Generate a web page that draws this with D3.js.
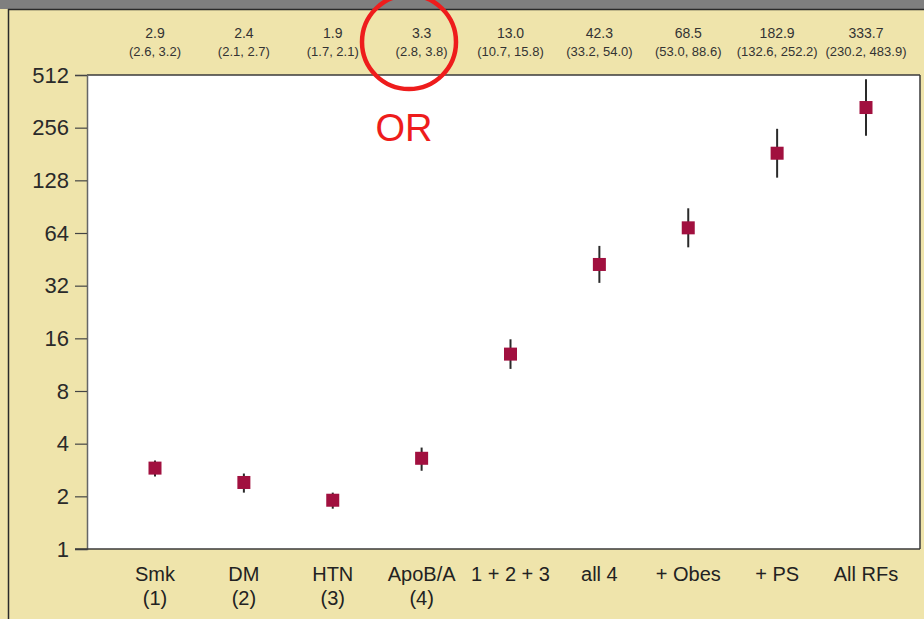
<!DOCTYPE html>
<html>
<head>
<meta charset="utf-8">
<script src="https://cdn.jsdelivr.net/npm/d3@7"></script>
<style>
  body { margin: 0; background: #efe4ab; }
  svg { display: block; font-family: "Liberation Sans", Arial, sans-serif; }
</style>
</head>
<body>
<div id="chart"></div>
<script>
// data
const categories = ["Smk", "DM", "HTN", "ApoB/A", "1 + 2 + 3", "all 4", "+ Obes", "+ PS", "All RFs"];
const subLabels = ["(1)", "(2)", "(3)", "(4)", "", "", "", "", ""];
const oddsRatio = [2.9, 2.4, 1.9, 3.3, 13.0, 42.3, 68.5, 182.9, 333.7];
const ciLow = [2.6, 2.1, 1.7, 2.8, 10.7, 33.2, 53.0, 132.6, 230.2];
const ciHigh = [3.2, 2.7, 2.1, 3.8, 15.8, 54.0, 88.6, 252.2, 483.9];
const yTicks = [1, 2, 4, 8, 16, 32, 64, 128, 256, 512];

const width = 924, height = 619;
const plot = { left: 87, right: 920, top: 75, bottom: 549 };

const svg = d3.select("#chart").append("svg")
  .attr("width", width)
  .attr("height", height);

// background panel
svg.append("rect").attr("x", 0).attr("y", 0).attr("width", width).attr("height", height).attr("fill", "#efe4ab");
svg.append("rect").attr("x", 0).attr("y", 0).attr("width", width).attr("height", 9).attr("fill", "#7f7f7f");
svg.append("line").attr("x1", 8).attr("x2", width).attr("y1", 9.5).attr("y2", 9.5).attr("stroke", "#2a2a2a").attr("stroke-width", 1.5);
svg.append("line").attr("x1", 8.5).attr("x2", 8.5).attr("y1", 9).attr("y2", height).attr("stroke", "#2a2a2a").attr("stroke-width", 1.5);

// plot area
svg.append("rect")
  .attr("x", plot.left).attr("y", plot.top)
  .attr("width", plot.right - plot.left).attr("height", plot.bottom - plot.top)
  .attr("fill", "#ffffff");
svg.append("line").attr("x1", plot.left).attr("x2", plot.right).attr("y1", plot.top).attr("y2", plot.top).attr("stroke", "#3a3a3a").attr("stroke-width", 1.5);
svg.append("line").attr("x1", plot.right).attr("x2", plot.right).attr("y1", plot.top).attr("y2", plot.bottom).attr("stroke", "#3a3a3a").attr("stroke-width", 1.5);

// scales
const x = d3.scalePoint()
  .domain(categories)
  .range([155, 866]);

const y = d3.scaleLog()
  .base(2)
  .domain([1, 512])
  .range([plot.bottom, plot.top]);

// y axis
const yAxis = d3.axisLeft(y)
  .tickValues(yTicks)
  .tickFormat(d3.format("d"))
  .tickSize(12)
  .tickPadding(6);

const gy = svg.append("g")
  .attr("transform", "translate(" + plot.left + ",0)")
  .call(yAxis);
gy.select(".domain").attr("stroke", "#666").attr("stroke-width", 1.5);
gy.selectAll(".tick line").attr("stroke", "#444").attr("stroke-width", 1.2);
gy.selectAll(".tick text")
  .attr("font-size", 22)
  .attr("fill", "#2a2a2a")
  .attr("font-family", "Liberation Sans, Arial, sans-serif");

// bottom line of plot
svg.append("line").attr("x1", plot.left - 12).attr("x2", plot.right).attr("y1", plot.bottom).attr("y2", plot.bottom).attr("stroke", "#3a3a3a").attr("stroke-width", 1.5);

// x labels
const xl = svg.append("g").selectAll("g.xlab")
  .data(categories)
  .enter().append("g")
  .attr("class", "xlab");
xl.append("text")
  .attr("x", d => x(d))
  .attr("y", 581)
  .attr("text-anchor", "middle")
  .attr("font-size", 20)
  .attr("fill", "#222")
  .text(d => d);
xl.append("text")
  .attr("x", d => x(d))
  .attr("y", 605)
  .attr("text-anchor", "middle")
  .attr("font-size", 20)
  .attr("fill", "#222")
  .text((d, i) => subLabels[i]);

// header values
const hdr = svg.append("g").selectAll("g.hdr")
  .data(categories)
  .enter().append("g")
  .attr("class", "hdr");
hdr.append("text")
  .attr("x", d => x(d))
  .attr("y", 38)
  .attr("text-anchor", "middle")
  .attr("font-size", 14)
  .attr("fill", "#333")
  .text((d, i) => oddsRatio[i].toFixed(1));
hdr.append("text")
  .attr("x", d => x(d))
  .attr("y", 56)
  .attr("text-anchor", "middle")
  .attr("font-size", 13)
  .attr("fill", "#333")
  .text((d, i) => "(" + ciLow[i].toFixed(1) + ", " + ciHigh[i].toFixed(1) + ")");

// error bars
svg.append("g").selectAll("line.err")
  .data(categories)
  .enter().append("line")
  .attr("class", "err")
  .attr("x1", d => x(d)).attr("x2", d => x(d))
  .attr("y1", (d, i) => y(ciLow[i]))
  .attr("y2", (d, i) => y(ciHigh[i]))
  .attr("stroke", "#2a2a2a")
  .attr("stroke-width", 2);

// points
const sq = 13;
svg.append("g").selectAll("rect.pt")
  .data(categories)
  .enter().append("rect")
  .attr("class", "pt")
  .attr("x", d => x(d) - sq / 2)
  .attr("y", (d, i) => y(oddsRatio[i]) - sq / 2)
  .attr("width", sq)
  .attr("height", sq)
  .attr("fill", "#a1103f");

// annotation: red circle + OR
svg.append("circle")
  .attr("cx", 409).attr("cy", 42).attr("r", 47)
  .attr("fill", "none")
  .attr("stroke", "#ee1c1c")
  .attr("stroke-width", 4.5);
svg.append("text")
  .attr("x", 404).attr("y", 141)
  .attr("text-anchor", "middle")
  .attr("font-size", 38)
  .attr("fill", "#ee1c1c")
  .attr("font-family", "Liberation Sans, Arial, sans-serif")
  .text("OR");
</script>
</body>
</html>
